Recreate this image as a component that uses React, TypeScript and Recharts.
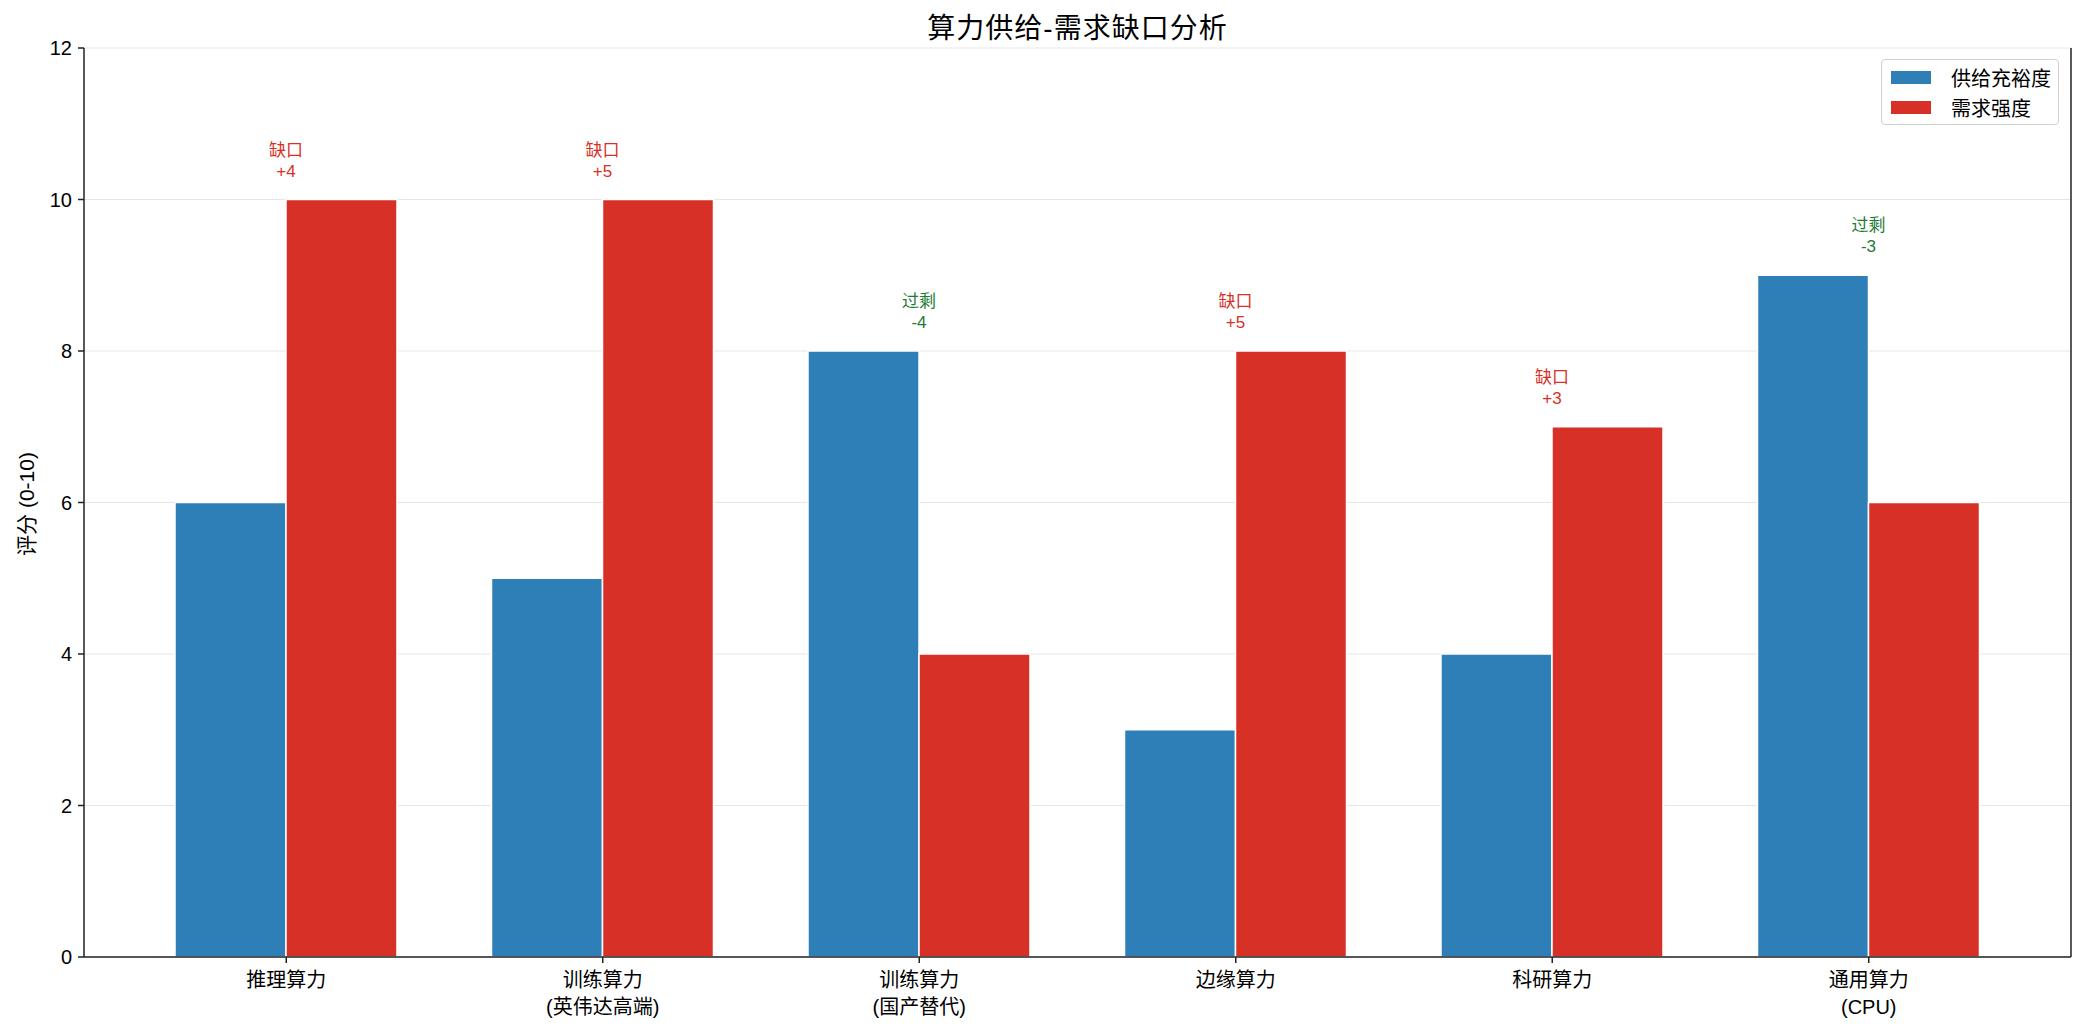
import React from "react";
import {
  BarChart,
  Bar,
  XAxis,
  YAxis,
  CartesianGrid,
  LabelList,
} from "recharts";

const categories = [
  "推理算力",
  "训练算力\n(英伟达高端)",
  "训练算力\n(国产替代)",
  "边缘算力",
  "科研算力",
  "通用算力\n(CPU)",
];
const supply = [6, 5, 8, 3, 4, 9];
const demand = [10, 10, 4, 8, 7, 6];
const yTicks = [0, 2, 4, 6, 8, 10, 12];

const BLUE = "#2E7FB8";
const RED = "#D73027";
const GREEN = "#1E7B34";
const FONT = '"Liberation Sans", Arial, "Noto Sans CJK SC", sans-serif';

const data = categories.map((name, i) => ({
  name,
  supply: supply[i],
  demand: demand[i],
}));

function CategoryTick(props: any) {
  const { x, y, payload } = props;
  const lines = String(payload.value).split("\n");
  return (
    <text x={x} y={y} textAnchor="middle" fontSize={20} fill="#000" fontFamily={FONT}>
      {lines.map((l, i) => (
        <tspan key={i} x={x} dy={i === 0 ? 22 : 27}>
          {l}
        </tspan>
      ))}
    </text>
  );
}

function GapLabel(props: any) {
  const { x, y, height, index } = props;
  const d = demand[index];
  const s = supply[index];
  const ppu = height / d;
  const base = y + height;
  const top = base - Math.max(d, s) * ppu;
  const gap = d - s;
  const short = gap > 0;
  const color = short ? RED : GREEN;
  return (
    <text x={x} y={top} textAnchor="middle" fontSize={17} fill={color} fontFamily={FONT}>
      <tspan x={x} dy={-44}>{short ? "缺口" : "过剩"}</tspan>
      <tspan x={x} dy={21}>{short ? `+${gap}` : `${gap}`}</tspan>
    </text>
  );
}

function LegendBox() {
  const items = [
    { label: "供给充裕度", color: BLUE },
    { label: "需求强度", color: RED },
  ];
  return (
    <div
      style={{
        position: "absolute",
        left: 1881,
        top: 59,
        width: 178,
        boxSizing: "border-box",
        border: "1px solid #d0d0d0",
        borderRadius: 4,
        background: "#fff",
        padding: "2px 6px 2px 9px",
        fontFamily: FONT,
        fontSize: 20,
        color: "#000",
      }}
    >
      {items.map((it) => (
        <div key={it.label} style={{ display: "flex", alignItems: "center", height: 30 }}>
          <span
            style={{ width: 40, height: 13, background: it.color, display: "inline-block", marginRight: 20 }}
          />
          <span>{it.label}</span>
        </div>
      ))}
    </div>
  );
}

export default function App() {
  return (
    <div style={{ position: "absolute", left: 0, top: 0, width: 2085, height: 1032, background: "#fff" }}>
      <BarChart
        width={2085}
        height={1032}
        data={data}
        margin={{ top: 48, right: 13, bottom: 0, left: 0 }}
        barGap={0}
        barSize={111}
      >
        <CartesianGrid vertical={false} stroke="#e6e6e6" strokeWidth={1} />
        <XAxis
          dataKey="name"
          padding={{ left: 44, right: 44 }}
          tick={<CategoryTick />}
          tickLine={{ stroke: "#222", strokeWidth: 1.5 }}
          tickSize={6}
          axisLine={{ stroke: "#222", strokeWidth: 1.5 }}
          interval={0}
          height={75}
        />
        <XAxis
          xAxisId="top"
          orientation="top"
          dataKey="name"
          tick={false}
          tickLine={false}
          axisLine={{ stroke: "#222", strokeWidth: 1.5 }}
          height={0}
        />
        <YAxis
          domain={[0, 12]}
          ticks={yTicks}
          width={84}
          tick={{ fontSize: 20, fill: "#000", fontFamily: FONT }}
          tickLine={{ stroke: "#222", strokeWidth: 1.5 }}
          tickSize={6}
          tickMargin={6}
          axisLine={{ stroke: "#222", strokeWidth: 1.5 }}
        />
        <YAxis
          yAxisId="right"
          orientation="right"
          domain={[0, 12]}
          tick={false}
          tickLine={false}
          width={1}
          axisLine={{ stroke: "#222", strokeWidth: 1.5 }}
        />
        <Bar dataKey="supply" name="供给充裕度" fill={BLUE} stroke="#fff" strokeWidth={1.5} isAnimationActive={false} />
        <Bar dataKey="demand" name="需求强度" fill={RED} stroke="#fff" strokeWidth={1.5} isAnimationActive={false}>
          <LabelList dataKey="demand" content={<GapLabel />} />
        </Bar>
      </BarChart>
      <div
        style={{
          position: "absolute",
          left: 84,
          width: 1987,
          top: 6,
          textAlign: "center",
          fontFamily: FONT,
          fontSize: 28,
          letterSpacing: 1,
          color: "#000",
        }}
      >
        算力供给-需求缺口分析
      </div>
      <div
        style={{
          position: "absolute",
          left: 25,
          top: 504,
          transform: "translate(-50%, -50%) rotate(-90deg)",
          fontFamily: FONT,
          fontSize: 21,
          whiteSpace: "nowrap",
          color: "#000",
        }}
      >
        评分 (0-10)
      </div>
      <LegendBox />
    </div>
  );
}
